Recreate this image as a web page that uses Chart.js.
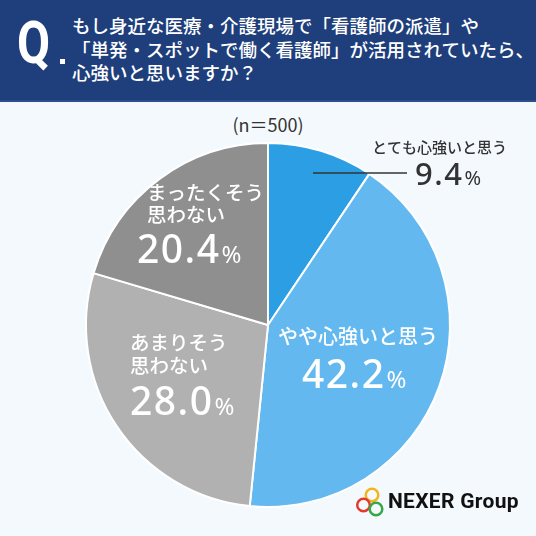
<!DOCTYPE html>
<html lang="ja">
<head>
<meta charset="utf-8">
<script src="https://cdn.jsdelivr.net/npm/chart.js@4.4.1/dist/chart.umd.min.js"></script>
<style>
  html, body { margin: 0; padding: 0; }
  body { width: 536px; height: 536px; position: relative; overflow: hidden; background: #f4f9fd; font-family: "Noto Sans CJK JP", sans-serif; }
  #head { position: absolute; left: 0; top: 0; width: 536px; height: 100px; background: #1f3f7c; border-bottom: 2px solid #2b4f8c; }
  #q { position: absolute; left: 17px; top: 3px; font: bold 60px Roboto, sans-serif; color: #fff; transform: scaleX(0.8); transform-origin: left top; line-height: 80px; }
  #dot { position: absolute; left: 60px; top: 59px; width: 5px; height: 5px; background: #fff; }
  #qt { position: absolute; left: 72px; top: 14px; color: #fff; font-size: 18.5px; line-height: 23.5px; font-weight: 500; white-space: nowrap; }
  #n { position: absolute; left: 0; width: 536px; top: 111px; text-align: center; font-size: 18px; color: #333; }
  #chart { position: absolute; left: 0; top: 0; }
  #logo { position: absolute; left: 354px; top: 486px; width: 175px; height: 34px; }
  #logo span { position: absolute; left: 34px; top: 3px; font: bold 21px Roboto, sans-serif; color: #111; letter-spacing: 0.3px; }
</style>
</head>
<body>
<div id="head">
  <div id="q">Q</div>
  <div id="dot"></div>
  <div id="qt">もし身近な医療・介護現場で「看護師の派遣」や<br>「単発・スポットで働く看護師」が活用されていたら、<br>心強いと思いますか？</div>
</div>
<div id="n">(n＝500)</div>
<canvas id="chart" width="536" height="536"></canvas>
<div id="logo">
  <svg width="34" height="34" viewBox="0 0 34 34">
    <circle cx="18" cy="9" r="6.3" fill="none" stroke="#f2b51c" stroke-width="2.5"/>
    <circle cx="9.5" cy="19" r="6.3" fill="none" stroke="#e23b2e" stroke-width="2.5"/>
    <circle cx="22" cy="23" r="6.3" fill="none" stroke="#3aa64a" stroke-width="2.5"/>
  </svg>
  <span>NEXER Group</span>
</div>
<script>
// answers, clockwise from 12 o'clock
const categories = ['とても心強いと思う', 'やや心強いと思う', 'あまりそう思わない', 'まったくそう思わない'];
const labelLines = [['とても心強いと思う'], ['やや心強いと思う'], ['あまりそう', '思わない'], ['まったくそう', '思わない']];
const values = [9.4, 42.2, 28.0, 20.4];
const colors = ['#2c9fe4', '#63b9ef', '#b1b1b1', '#8f8f8f'];

// label placement relative to the pie centre
const placement = [
  { dx: 104, lines: [-178], numY: -140, numDx: 147, size: 15, num: 31, pct: 20, color: '#333', leader: [45, 139, -152] },
  { dx: 10, lines: [11], numY: 63, numDx: 34, size: 20, num: 39, pct: 24, color: '#fff' },
  { dx: -138, lines: [18, 41], numY: 90, numDx: -138, size: 19.5, num: 39, pct: 24, color: '#fff' },
  { dx: -121, lines: [-132, -110], numY: -62, numDx: -131, size: 19.5, num: 39, pct: 24, color: '#fff' }
];

const sliceLabels = {
  id: 'sliceLabels',
  afterDatasetsDraw(chart) {
    const ctx = chart.ctx;
    const arcs = chart.getDatasetMeta(0).data;
    const cx = arcs[0].x, cy = arcs[0].y;
    ctx.save();
    placement.forEach((p, i) => {
      ctx.fillStyle = p.color;
      ctx.textAlign = 'left';
      ctx.textBaseline = 'middle';
      ctx.letterSpacing = '0px';
      ctx.font = '500 ' + p.size + 'px "Noto Sans CJK JP"';
      labelLines[i].forEach((t, j) => ctx.fillText(t, cx + p.dx, cy + p.lines[j]));

      const num = values[i].toFixed(1);
      ctx.textBaseline = 'alphabetic';
      ctx.letterSpacing = '1.5px';
      ctx.font = '500 ' + p.num + 'px "Noto Sans"';
      const x = cx + p.numDx, y = cy + p.numY;
      ctx.fillText(num, x, y);
      const w = ctx.measureText(num).width;
      ctx.letterSpacing = '0px';
      ctx.font = '400 ' + p.pct + 'px "Noto Sans"';
      ctx.fillText('%', x + w + 1, y);

      if (p.leader) {
        ctx.strokeStyle = '#333';
        ctx.lineWidth = 1.5;
        ctx.beginPath();
        ctx.moveTo(cx + p.leader[0], cy + p.leader[2]);
        ctx.lineTo(cx + p.leader[1], cy + p.leader[2]);
        ctx.stroke();
      }
    });
    ctx.restore();
  }
};

new Chart(document.getElementById('chart'), {
  type: 'pie',
  data: {
    labels: categories,
    datasets: [{
      data: values,
      backgroundColor: colors,
      borderColor: '#ffffff',
      borderWidth: 2
    }]
  },
  options: {
    responsive: false,
    animation: false,
    layout: { padding: { left: 85, right: 85, top: 142, bottom: 28 } },
    plugins: {
      legend: { display: false },
      tooltip: { enabled: false }
    }
  },
  plugins: [sliceLabels]
});
</script>
</body>
</html>
